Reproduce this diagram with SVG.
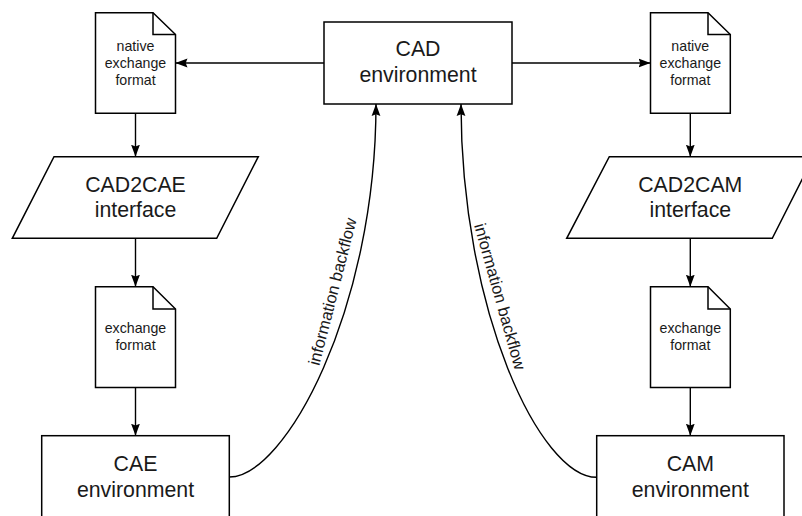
<svg xmlns="http://www.w3.org/2000/svg" width="802" height="516" viewBox="0 0 802 516">
  <style>
    .shape { fill: #ffffff; stroke: #000000; stroke-width: 1.5; }
    .fold { fill: none; stroke: #000000; stroke-width: 1.5; }
    .edge { fill: none; stroke: #000000; stroke-width: 1.4; }
    .big { font-family: "Liberation Sans", Arial, Helvetica, sans-serif; font-size: 21.3px; fill: #1a1a1a; text-anchor: middle; }
    .small { font-family: "Liberation Sans", Arial, Helvetica, sans-serif; font-size: 14.2px; fill: #1a1a1a; text-anchor: middle; }
    .label { font-family: "Liberation Sans", Arial, Helvetica, sans-serif; font-size: 16.6px; fill: #1a1a1a; text-anchor: middle; }
  </style>
  <defs>
    <marker id="arrow" markerUnits="userSpaceOnUse" markerWidth="12" markerHeight="10" viewBox="0 0 12 10" refX="12" refY="5" orient="auto">
      <path d="M0,0.6 L12,5 L0,9.4 L1.8,5 Z" fill="#000000"/>
    </marker>
  </defs>

  <rect width="802" height="516" fill="#ffffff"/>

  <!-- connectors -->
  <g id="connectors">
    <path class="edge" d="M324,63 H175.5" marker-end="url(#arrow)"/>
    <path class="edge" d="M512,63 H650.5" marker-end="url(#arrow)"/>
    <path class="edge" d="M135.5,113.3 V156.7" marker-end="url(#arrow)"/>
    <path class="edge" d="M135.5,238.3 V286.7" marker-end="url(#arrow)"/>
    <path class="edge" d="M135.5,387.5 V435.7" marker-end="url(#arrow)"/>
    <path class="edge" d="M690.3,113.3 V156.7" marker-end="url(#arrow)"/>
    <path class="edge" d="M690.3,238.3 V286.7" marker-end="url(#arrow)"/>
    <path class="edge" d="M690.3,387.5 V435.7" marker-end="url(#arrow)"/>
    <path class="edge" d="M229.3,477 C285,477 376,310 376,104" marker-end="url(#arrow)"/>
    <path class="edge" d="M596.7,477.3 C540,477.3 461,310 461,104" marker-end="url(#arrow)"/>
    <text class="label" transform="translate(338,293) rotate(-75.6)">information backflow</text>
    <text class="label" transform="translate(494.5,298) rotate(74.2)">information backflow</text>
  </g>

  <!-- CAD environment -->
  <g id="cad-env">
    <rect class="shape" x="324" y="22" width="188" height="82"/>
    <text class="big" x="418" y="56">CAD</text>
    <text class="big" x="418" y="81.7">environment</text>
  </g>

  <!-- native exchange format (CAE side) -->
  <g id="native-cae">
    <path class="shape" d="M95.5,12.7 H153 L175.5,34.5 V113.3 H95.5 Z"/>
    <path class="fold" d="M153,12.7 V34.5 H175.5"/>
    <text class="small" x="135.5" y="50.7">native</text>
    <text class="small" x="135.5" y="67.7">exchange</text>
    <text class="small" x="135.5" y="84.5">format</text>
  </g>

  <!-- native exchange format (CAM side) -->
  <g id="native-cam">
    <path class="shape" d="M650.5,12.7 H708 L730.3,34.5 V113.3 H650.5 Z"/>
    <path class="fold" d="M708,12.7 V34.5 H730.3"/>
    <text class="small" x="690.3" y="50.7">native</text>
    <text class="small" x="690.3" y="67.7">exchange</text>
    <text class="small" x="690.3" y="84.5">format</text>
  </g>

  <!-- CAD2CAE interface -->
  <g id="cad2cae">
    <path class="shape" d="M54,156.7 H258.3 L216.7,238.3 H12.3 Z"/>
    <text class="big" x="135.5" y="191.7">CAD2CAE</text>
    <text class="big" x="135.5" y="216.7">interface</text>
  </g>

  <!-- CAD2CAM interface -->
  <g id="cad2cam">
    <path class="shape" d="M609.3,156.7 H813.6 L772.3,238.3 H566.7 Z"/>
    <text class="big" x="690.3" y="191.7">CAD2CAM</text>
    <text class="big" x="690.3" y="216.7">interface</text>
  </g>

  <!-- exchange format (CAE side) -->
  <g id="exchange-cae">
    <path class="shape" d="M95.5,286.7 H153 L175.5,309 V387.5 H95.5 Z"/>
    <path class="fold" d="M153,286.7 V309 H175.5"/>
    <text class="small" x="135.5" y="333.3">exchange</text>
    <text class="small" x="135.5" y="350">format</text>
  </g>

  <!-- exchange format (CAM side) -->
  <g id="exchange-cam">
    <path class="shape" d="M650.5,286.7 H708 L730.3,309 V387.5 H650.5 Z"/>
    <path class="fold" d="M708,286.7 V309 H730.3"/>
    <text class="small" x="690.3" y="333.3">exchange</text>
    <text class="small" x="690.3" y="350">format</text>
  </g>

  <!-- CAE environment -->
  <g id="cae-env">
    <rect class="shape" x="41.7" y="435.7" width="187.6" height="82"/>
    <text class="big" x="135.5" y="470.7">CAE</text>
    <text class="big" x="135.5" y="496.7">environment</text>
  </g>

  <!-- CAM environment -->
  <g id="cam-env">
    <rect class="shape" x="596.7" y="435.7" width="187.3" height="82"/>
    <text class="big" x="690.3" y="470.7">CAM</text>
    <text class="big" x="690.3" y="496.7">environment</text>
  </g>
</svg>
